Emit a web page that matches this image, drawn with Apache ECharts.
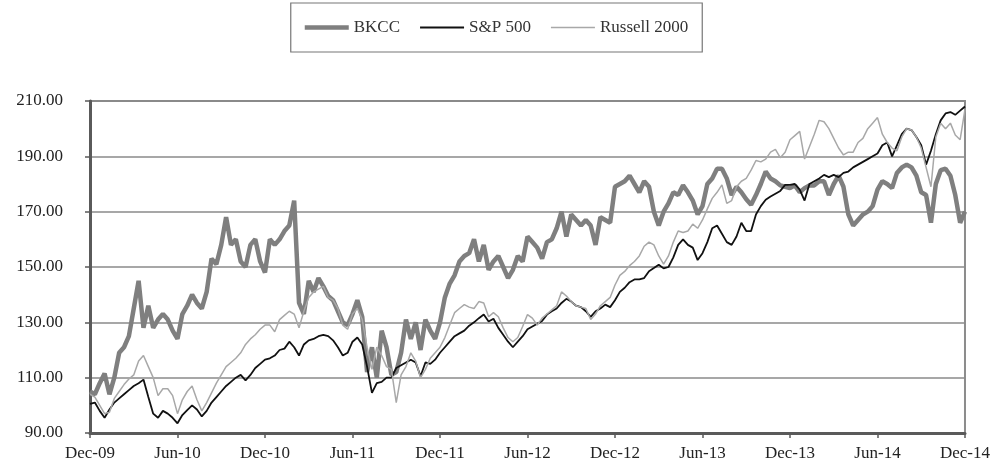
<!DOCTYPE html>
<html>
<head>
<meta charset="utf-8">
<script src="https://cdn.jsdelivr.net/npm/echarts@6/dist/echarts.min.js"></script>
<style>
  html, body { margin: 0; padding: 0; background: #fff; }
  #chart { width: 993px; height: 468px; }
</style>
</head>
<body>
<div id="chart"></div>
<script>
// tick labels on the x axis, one every 6 months
var tickLabels = ['Dec-09', 'Jun-10', 'Dec-10', 'Jun-11', 'Dec-11', 'Jun-12', 'Dec-12', 'Jun-13', 'Dec-13', 'Jun-14', 'Dec-14'];
var pointsPerTick = 18; // 3 readings per month

// values, rows = 6 months
var bkcc = [
  105,104,108,111.5,104,110,119,121,125,135,145,128,136,128,131,133,131,127,
  124,133,136,140,137,135,141,153,151,158,168,158,160,152,150,158,160,152,
  148,160,158,160,163,165,174,137,133,145,141,146,143,139.5,138,134,130,129,
  133,138,132,112,121,110,127,121,111,112,119,131,124,130,120,131,127,124,
  130,139,144,147,152,154,155,160,152,158,149,152,154,150,146,149,154,152,
  161,159,157,153,159,160,164,170,161,169,167,165,167,165,158,168,167,166,
  179,180,181,183,180,177,181,179,170,165,170,173,177,176,179.5,177,174,169,
  172,180,182,185.5,185.5,182,176,179,177,174.5,172.5,176,180,184.5,182,181,179.5,179,
  178.5,179.5,177,178.5,179.5,179.5,181,181,176,180,183,179,169,165,167,169,170,172,
  178,181,180,178.5,184,186,187,186,183,177,176,166,180,185,185.5,183,176,166,
  170
];
var sp500 = [
  100.5,101,98,95.5,98.5,101,102.5,104,105.5,107,108,109.3,103,97,95.5,98,97,95.5,
  93.5,96.5,98.3,100,98.5,96,98,101,103,105,107,108.5,110,111,109,111,113.5,115,
  116.5,117,118,120,120.5,123,121,118,122,123.5,124,125,125.5,125,123.5,121,118,119,
  123,124.5,122,114,104.5,108,108.5,110,110,113.5,114.5,115.5,116.5,115.5,110.5,115.5,115,116.5,
  119,121,123,125,126,127,128.8,130,131.5,132.8,130.3,131.3,128,125.5,123,121,123,125,
  127.5,128.5,129.5,130.5,132.8,134,135,137,138.5,137.5,136,135.5,134,132,134,135,136.4,135.5,
  138,141,142.5,144.5,145.5,145.5,146,148.5,149.6,150.8,149.5,150,153.5,158,160,158,157,152.5,
  155,159,164,165,162,159,158,161,166,163,163,169,172,174.3,175.5,176.5,177.5,179.7,
  179.7,180,178,174,180,181,182,183.3,182.5,183.3,182.5,184,184.5,186,187,188,189,190,
  191,194,195,190,194,198,200,199.5,197,194,187,192,198,203,205.5,206,205,206.5,
  208
];
var russell = [
  104,103,100,97,97.5,102.5,105,107.5,109.5,111,116,118,114,110,103.5,106,106,103.5,
  97,102,105,107,102,98,101,104.5,108,111,114,115.5,117,119,122,124,125.5,127.5,
  129,129,126.6,131,132.5,134,133,128,134,139,141,142,143,139,138,135,129,127.5,
  133,135,131,121,113,121,118,114,113,101,111,114,119,116,110,113,117,119,
  121,124.5,129,133.5,135,136.4,135.5,135,137.5,137,132,133.5,132,128,124.5,123,124.5,128.5,
  132.8,131.5,129,131.5,133,134.5,136,141,139.5,137.5,136,135.5,135,131,133,136,137.5,139,
  143.5,147,148.4,150.5,152,154,157.5,159,158,154,151,154,159,163,162.5,163,165.5,164,
  167,171,174.8,177,179.7,173,174,179,181,182,185,188.5,188,189,191.5,192.5,189.5,191.5,
  196,197.5,199,189,193.5,198,203,202.5,200,196.5,193,190.5,191.5,191.5,195,196.5,200,202,
  204,198,195,193,192,197,200,199.5,197,193,186,179,197,202,200,202,197.7,196,
  207
];

// category names: the tick label on every 18th point, blank in between
var categories = [];
for (var i = 0; i < bkcc.length; i++) {
  categories.push(i % pointsPerTick === 0 ? tickLabels[i / pointsPerTick] : '');
}

var serif = 'Liberation Serif';
var colBkcc = '#7f7f7f', colSp = '#111', colRus = '#a8a8a8';

var option = {
  animation: false,
  backgroundColor: '#fff',
  legend: {
    left: 'center',
    top: 3,
    padding: [16, 14],
    itemGap: 20,
    itemWidth: 44,
    itemHeight: 14,
    symbolKeepAspect: true,
    borderColor: '#777',
    borderWidth: 1.2,
    textStyle: { fontFamily: serif, fontSize: 17, color: '#333' },
    // plain line samples, no dot in the middle
    data: [
      { name: 'BKCC', icon: 'path://M0 0H44V4.5H0Z' },
      { name: 'S&P 500', icon: 'path://M0 0H44V2.2H0Z' },
      { name: 'Russell 2000', icon: 'path://M0 0H44V1.6H0Z' }
    ]
  },
  grid: {
    left: 90,
    right: 28,
    top: 101,
    bottom: 35,
    show: true,
    borderColor: '#8c8c8c',
    borderWidth: 2
  },
  xAxis: {
    type: 'category',
    boundaryGap: false,
    data: categories,
    axisLine: { lineStyle: { color: '#5a5a5a', width: 3 } },
    axisTick: { show: true, interval: pointsPerTick - 1, length: 5, lineStyle: { color: '#5a5a5a', width: 1.5 } },
    axisLabel: {
      interval: pointsPerTick - 1,
      margin: 12,
      fontFamily: serif,
      fontSize: 17,
      color: '#222'
    },
    splitLine: { show: false }
  },
  yAxis: {
    type: 'value',
    min: 90,
    max: 210,
    interval: 20,
    axisLine: { show: true, lineStyle: { color: '#5a5a5a', width: 3 } },
    axisTick: { show: true, length: 5, lineStyle: { color: '#5a5a5a', width: 1.5 } },
    axisLabel: {
      margin: 27,
      fontFamily: serif,
      fontSize: 17,
      color: '#222',
      formatter: function (v) { return v.toFixed(2); }
    },
    splitLine: { lineStyle: { color: '#8a8a8a', width: 1.6 } }
  },
  series: [
    {
      name: 'BKCC',
      type: 'line',
      symbol: 'none',
      data: bkcc,
      lineStyle: { color: colBkcc, width: 4.5 },
      itemStyle: { color: colBkcc }
    },
    {
      name: 'S&P 500',
      type: 'line',
      symbol: 'none',
      data: sp500,
      lineStyle: { color: colSp, width: 1.8 },
      itemStyle: { color: colSp }
    },
    {
      name: 'Russell 2000',
      type: 'line',
      symbol: 'none',
      data: russell,
      lineStyle: { color: colRus, width: 1.5 },
      itemStyle: { color: colRus }
    }
  ]
};

echarts.init(document.getElementById('chart')).setOption(option);
</script>
</body>
</html>
